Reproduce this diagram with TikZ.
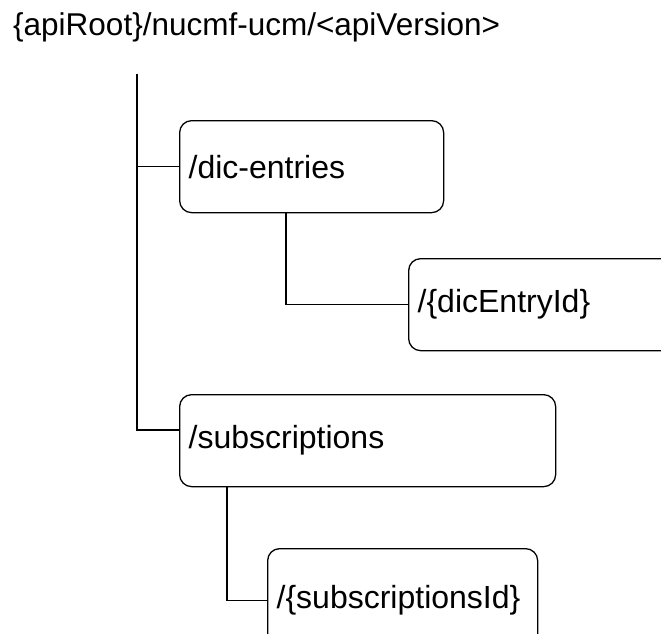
\documentclass[tikz,border=0pt]{standalone}
\usepackage{fontspec}
\setmainfont{Liberation Sans}
\begin{document}
\begin{tikzpicture}[x=1pt,y=1pt,
  resbox/.style={draw, line width=1.3pt, rounded corners=12pt, align=left,
    inner xsep=9pt, inner ysep=0pt, minimum height=92pt, anchor=north west,
    font=\fontsize{32}{38}\selectfont},
  conn/.style={line width=1.3pt}]
\clip (0,0) rectangle (661,-634);
\useasboundingbox (0,0) rectangle (661,-634);
\node[anchor=base west, inner sep=0pt, font=\fontsize{31.5}{38}\selectfont] (root) at (13,-36) {\{apiRoot\}/nucmf-ucm/<apiVersion>};
\coordinate (ttop) at (137,-74);
\coordinate (tbot) at (137,-430);
\node[resbox, text width=246pt] (dic) at (179,-120) {/dic-entries};
\node[resbox, text width=260pt] (die) at (408,-258) {/\{dicEntryId\}};
\node[resbox, text width=358pt] (sub) at (179,-394) {/subscriptions};
\node[resbox, text width=252pt, minimum height=104pt] (sid) at (267,-548) {/\{subscriptionsId\}\\[12pt]};
\draw[conn] (ttop) -- (tbot) -- (tbot -| sub.west);
\draw[conn] (ttop |- dic.west) -- (dic.west);
\draw[conn] (dic.south -| 286,0) |- (die.west);
\draw[conn] (sub.south -| 227,0) |- (sid.west);
\end{tikzpicture}
\end{document}
